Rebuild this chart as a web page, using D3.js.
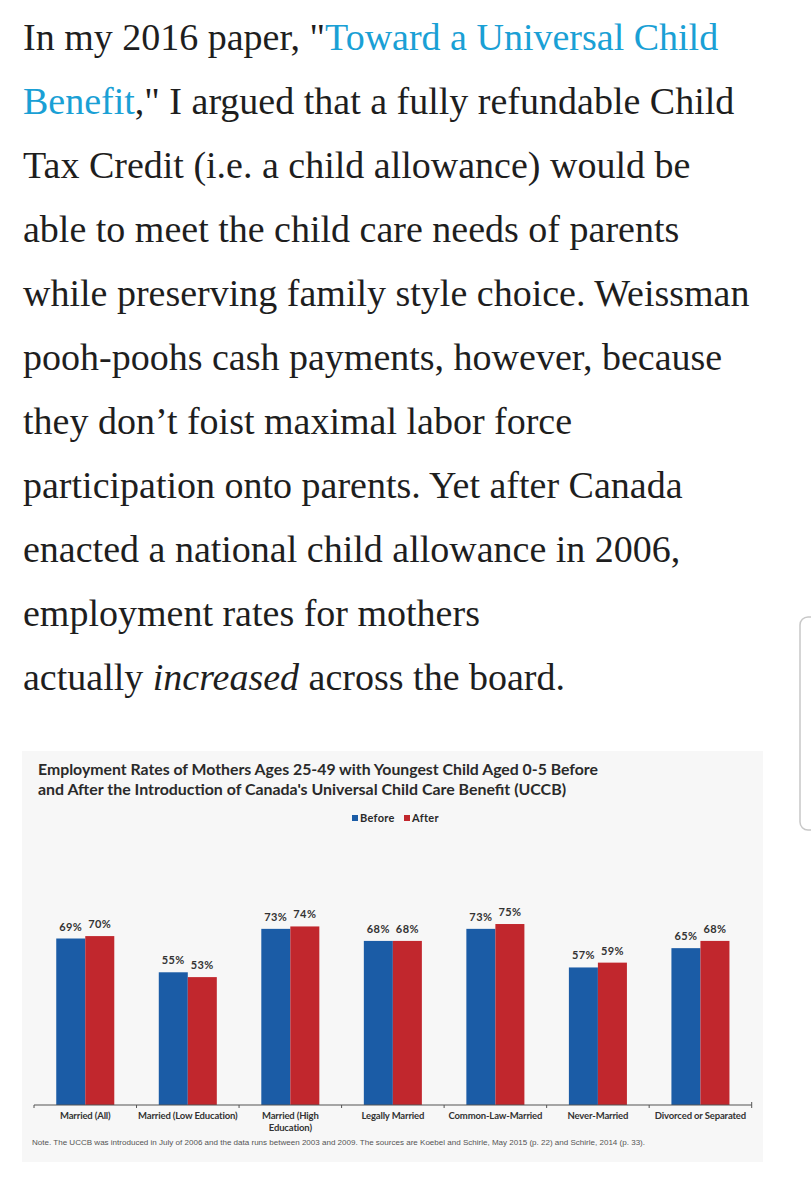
<!DOCTYPE html>
<html>
<head>
<meta charset="utf-8">
<script src="https://cdn.jsdelivr.net/npm/d3@7"></script>
<style>
    html, body { margin: 0; padding: 0; background: #fff; }
    svg { display: block; }
</style>
</head>
<body>
<div id="page"></div>
<script>
'use strict';

// article text, one entry per rendered line; each piece is [text, kind]
var articleLines = [
    [['In my 2016 paper, "', 'n'], ['Toward a Universal Child', 'link']],
    [['Benefit', 'link'], [',"\u00a0I argued that a fully refundable Child', 'n']],
    [['Tax Credit (i.e. a child allowance) would be', 'n']],
    [['able to meet the child care needs of parents', 'n']],
    [['while preserving family style choice. Weissman', 'n']],
    [['pooh-poohs cash payments, however, because', 'n']],
    [['they don\u2019t foist maximal labor force', 'n']],
    [['participation onto parents. Yet after Canada', 'n']],
    [['enacted a national child allowance in 2006,', 'n']],
    [['employment rates for mothers', 'n']],
    [['actually\u00a0', 'n'], ['increased', 'i'], ['\u00a0across the board.', 'n']]
];

var titleLines = [
    'Employment Rates of Mothers Ages 25-49 with Youngest Child Aged 0-5 Before',
    'and After the Introduction of Canada\'s Universal Child Care Benefit (UCCB)'
];
var categories = [
    'Married (All)',
    'Married (Low Education)',
    'Married (High|Education)',
    'Legally Married',
    'Common-Law-Married',
    'Never-Married',
    'Divorced or Separated'
];
var seriesNames = ['Before', 'After'];
var before = [69, 55, 73, 68, 73, 57, 65];
var after = [70, 53, 74, 68, 75, 59, 68];
var seriesColors = ['#1b5ca6', '#c1272d'];
var noteText = 'Note.  The UCCB was introduced in July of 2006 and the data runs between 2003 and 2009.  The sources are Koebel and Schirle, May 2015 (p. 22) and Schirle, 2014 (p. 33).';

var W = 811, H = 1200;
var svg = d3.select('#page').append('svg').attr('width', W).attr('height', H);

// ---- article text ----
var body = svg.append('g').attr('id', 'article');
articleLines.forEach(function (pieces, i) {
    var t = body.append('text')
        .attr('x', 23)
        .attr('y', 50 + i * 64)
        .attr('font-family', '"Liberation Serif", "Times New Roman", serif')
        .attr('font-size', 38)
        .attr('fill', '#1e1e1e');
    pieces.forEach(function (p) {
        t.append('tspan')
            .text(p[0])
            .attr('fill', p[1] === 'link' ? '#1aa0d5' : null)
            .attr('font-style', p[1] === 'i' ? 'italic' : null);
    });
});

// scrollbar handle at the right edge
svg.append('path')
    .attr('d', 'M811,617 h-3 a8,8 0 0 0 -8,8 V822 a8,8 0 0 0 8,8 h3')
    .attr('fill', 'none')
    .attr('stroke', '#c8c8c8')
    .attr('stroke-width', 1.5);

// ---- chart panel ----
var chart = svg.append('g').attr('id', 'chart');
chart.append('rect')
    .attr('x', 22).attr('y', 751)
    .attr('width', 741).attr('height', 411)
    .attr('fill', '#f7f7f7');

titleLines.forEach(function (line, i) {
    chart.append('text')
        .attr('x', 38)
        .attr('y', 775 + i * 20)
        .attr('font-family', 'Lato, "Open Sans", sans-serif')
        .attr('font-weight', 'bold')
        .attr('font-size', 15)
        .attr('fill', '#2a2a2a')
        .attr('textLength', i === 0 ? 560 : 528)
        .attr('lengthAdjust', 'spacingAndGlyphs')
        .text(line);
});

// legend
var legend = chart.append('g').attr('transform', 'translate(352,815)');
var legendX = [0, 52];
seriesNames.forEach(function (name, i) {
    var g = legend.append('g').attr('transform', 'translate(' + legendX[i] + ',0)');
    g.append('rect').attr('width', 6).attr('height', 6).attr('fill', seriesColors[i]);
    g.append('text')
        .attr('x', 8).attr('y', 7)
        .attr('font-family', 'Lato, "Open Sans", sans-serif')
        .attr('font-weight', 'bold')
        .attr('font-size', 11)
        .attr('letter-spacing', 0.3)
        .attr('fill', '#2a2a2a')
        .text(name);
});

// scales
var x0 = d3.scaleBand()
    .domain(categories)
    .range([34, 751.7])
    .paddingInner(0.434)
    .paddingOuter(0.217);
var x1 = d3.scaleBand()
    .domain(seriesNames)
    .range([0, x0.bandwidth()]);
var y = d3.scaleLinear()
    .domain([0, 100])
    .range([1105, 863.7]);

var rows = categories.map(function (c, i) {
    return { cat: c, values: [before[i], after[i]] };
});

var groups = chart.selectAll('.grp')
    .data(rows)
    .enter().append('g')
    .attr('class', 'grp')
    .attr('transform', function (d) { return 'translate(' + x0(d.cat) + ',0)'; });

groups.selectAll('rect')
    .data(function (d) {
        return d.values.map(function (v, j) { return { s: seriesNames[j], v: v, j: j }; });
    })
    .enter().append('rect')
    .attr('x', function (d) { return x1(d.s); })
    .attr('y', function (d) { return y(d.v); })
    .attr('width', x1.bandwidth())
    .attr('height', function (d) { return y(0) - y(d.v); })
    .attr('fill', function (d) { return seriesColors[d.j]; });

groups.selectAll('.val')
    .data(function (d) {
        return d.values.map(function (v, j) { return { s: seriesNames[j], v: v }; });
    })
    .enter().append('text')
    .attr('class', 'val')
    .attr('x', function (d) { return x1(d.s) + x1.bandwidth() / 2; })
    .attr('y', function (d) { return y(d.v) - 8; })
    .attr('text-anchor', 'middle')
    .attr('font-family', 'Lato, "Open Sans", sans-serif')
    .attr('font-weight', 'bold')
    .attr('font-size', 11)
    .attr('letter-spacing', 0.4)
    .attr('fill', '#333')
    .text(function (d) { return d.v + '%'; });

// x axis: baseline with ticks at band boundaries
var step = x0.step();
var axis = chart.append('g').attr('class', 'axis');
axis.append('line')
    .attr('x1', x0.range()[0]).attr('x2', x0.range()[1])
    .attr('y1', y(0)).attr('y2', y(0))
    .attr('stroke', '#555').attr('stroke-width', 1.2);
axis.selectAll('.tick')
    .data(d3.range(categories.length + 1))
    .enter().append('line')
    .attr('x1', function (i) { return x0.range()[0] + i * step; })
    .attr('x2', function (i) { return x0.range()[0] + i * step; })
    .attr('y1', function (i) { return i === categories.length ? y(0) - 3 : y(0); })
    .attr('y2', y(0) + 3)
    .attr('stroke', '#555').attr('stroke-width', 1);

axis.selectAll('.cat')
    .data(categories)
    .enter().append('text')
    .attr('class', 'cat')
    .attr('x', function (d) { return x0(d) + x0.bandwidth() / 2; })
    .attr('y', 1119)
    .attr('text-anchor', 'middle')
    .attr('font-family', 'Lato, "Open Sans", sans-serif')
    .attr('font-weight', 'bold')
    .attr('font-size', 9.5)
    .attr('letter-spacing', -0.15)
    .attr('fill', '#333')
    .each(function (d) {
        var el = d3.select(this);
        var cx = x0(d) + x0.bandwidth() / 2;
        d.split('|').forEach(function (part, k) {
            el.append('tspan').attr('x', cx).attr('dy', k === 0 ? 0 : 11.5).text(part);
        });
    });

chart.append('text')
    .attr('x', 32).attr('y', 1145)
    .attr('font-family', '"Liberation Sans", Arial, sans-serif')
    .attr('font-size', 7)
    .attr('fill', '#555')
    .attr('textLength', 613)
    .attr('lengthAdjust', 'spacingAndGlyphs')
    .text(noteText);
</script>
</body>
</html>
